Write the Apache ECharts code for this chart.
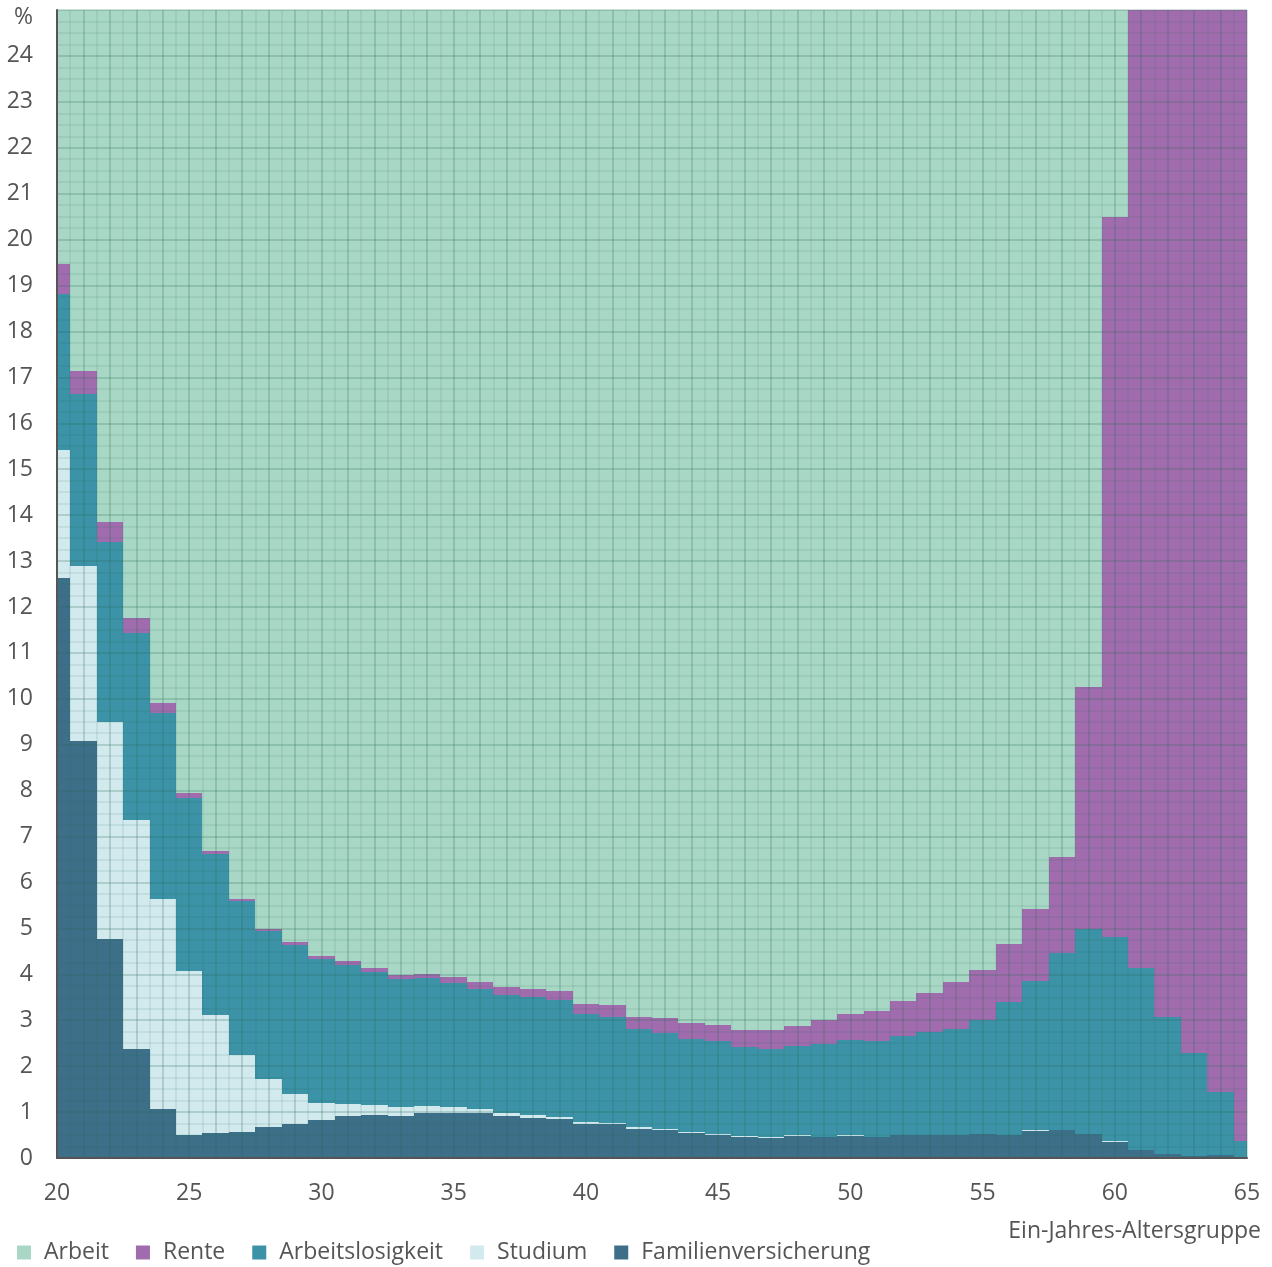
<!DOCTYPE html>
<html>
<head>
<meta charset="utf-8">
<title>Ein-Jahres-Altersgruppe</title>
<script src="https://cdn.jsdelivr.net/npm/echarts@6/dist/echarts.min.js"></script>
<style>
  html, body { margin: 0; padding: 0; background: #fff; }
  #chart { width: 1272px; height: 1267px; }
</style>
</head>
<body>
<div id="chart"></div>
<script>
// Anteile in % je Altersjahr (20 bis 65)
var ages = [20,21,22,23,24,25,26,27,28,29,30,31,32,33,34,35,36,37,38,39,40,41,42,
  43,44,45,46,47,48,49,50,51,52,53,54,55,56,57,58,59,60,61,62,63,64,65];
var familien = [12.64,9.08,4.77,2.37,1.07,0.50,0.54,0.57,0.67,0.74,0.83,0.92,0.94,0.92,
  0.99,0.99,0.99,0.92,0.87,0.84,0.75,0.73,0.64,0.60,0.54,0.50,0.45,0.44,0.48,0.45,0.48,
  0.45,0.50,0.50,0.50,0.52,0.50,0.59,0.61,0.52,0.35,0.17,0.08,0.05,0.06,0.03];
var studium = [2.77,3.81,4.72,4.99,4.58,3.58,2.58,1.67,1.05,0.65,0.37,0.26,0.22,0.18,
  0.14,0.11,0.08,0.07,0.07,0.05,0.03,0.03,0.03,0.03,0.03,0.03,0.02,0.02,0.01,0.01,0.01,
  0.01,0.01,0.01,0.01,0.01,0.01,0.01,0.01,0.01,0.01,0,0,0,0,0];
var arbeitslos = [3.40,3.74,3.93,4.08,4.04,3.76,3.50,3.35,3.22,3.24,3.13,3.02,2.90,2.80,
  2.78,2.71,2.61,2.56,2.56,2.54,2.35,2.32,2.15,2.10,2.03,2.01,1.95,1.91,1.94,2.03,2.07,
  2.08,2.14,2.23,2.30,2.47,2.89,3.26,3.85,4.46,4.46,3.97,2.99,2.24,1.38,0.34];
var rente = [0.66,0.50,0.42,0.32,0.21,0.11,0.07,0.05,0.05,0.07,0.07,0.09,0.07,0.09,
  0.10,0.13,0.15,0.17,0.18,0.20,0.22,0.26,0.26,0.31,0.35,0.35,0.36,0.42,0.45,0.52,0.57,
  0.66,0.76,0.85,1.02,1.10,1.25,1.56,2.08,5.26,15.68,40,60,75,85,92];
// Arbeit = Rest bis 100 %
var arbeit = ages.map(function (a, i) {
  return 100 - familien[i] - studium[i] - arbeitslos[i] - rente[i];
});

var layers = [
  { name: 'Familienversicherung', values: familien, color: '#3d6f88' },
  { name: 'Studium', values: studium, color: '#d2e9ee' },
  { name: 'Arbeitslosigkeit', values: arbeitslos, color: '#3c93a7' },
  { name: 'Rente', values: rente, color: '#a06cae' },
  { name: 'Arbeit', values: arbeit, color: '#a8d8c5' }
];

var txt = '#555';
var font = 'Open Sans';
var fs = 23;
var majorLine = { color: 'rgba(40,105,85,0.21)', width: 2 };
var minorLine = { color: 'rgba(40,105,85,0.12)', width: 1.5 };

var base = ages.map(function () { return 0; });
var series = layers.map(function (layer) {
  var data = ages.map(function (a, i) {
    var lo = base[i];
    base[i] += layer.values[i];
    return [a, lo, base[i]];
  });
  return {
    name: layer.name,
    type: 'custom',
    clip: true,
    z: 2,
    itemStyle: { color: layer.color },
    encode: { x: 0, y: [1, 2] },
    data: data,
    renderItem: function (params, api) {
      var x = api.value(0);
      var p0 = api.coord([x - 0.5, api.value(2)]);
      var p1 = api.coord([x + 0.5, api.value(1)]);
      var x0 = Math.round(p0[0]), x1 = Math.round(p1[0]);
      var y0 = Math.round(p0[1]), y1 = Math.round(p1[1]);
      var rect = echarts.graphic.clipRectByRect(
        { x: x0, y: y0, width: x1 - x0, height: y1 - y0 },
        { x: params.coordSys.x, y: params.coordSys.y,
          width: params.coordSys.width, height: params.coordSys.height }
      );
      if (!rect) return;
      return { type: 'rect', shape: rect, style: { fill: layer.color } };
    }
  };
});

var chart = echarts.init(document.getElementById('chart'));
chart.setOption({
  animation: false,
  textStyle: { fontFamily: font },
  grid: { left: 57, right: 25, top: 10, bottom: 109 },
  title: {
    text: 'Ein-Jahres-Altersgruppe',
    right: 6, top: 1215,
    textStyle: { fontFamily: font, fontSize: fs, fontWeight: 'normal', color: txt }
  },
  legend: {
    left: 12, top: 1236,
    icon: 'rect', itemWidth: 14, itemHeight: 14, itemGap: 27,
    data: ['Arbeit', 'Rente', 'Arbeitslosigkeit', 'Studium', 'Familienversicherung'],
    textStyle: { fontFamily: font, fontSize: fs, color: txt, padding: [0, 0, 0, 8] }
  },
  xAxis: {
    type: 'value', min: 20, max: 65, interval: 1, z: 5,
    axisLine: { show: true, onZero: false, lineStyle: { color: '#555', width: 2 } },
    axisTick: { show: false },
    axisLabel: {
      margin: 24, fontSize: fs, color: txt, fontFamily: font,
      formatter: function (v) { return v % 5 === 0 ? String(v) : ''; }
    },
    splitLine: { show: true, lineStyle: majorLine },
    minorTick: { show: false, splitNumber: 2 },
    minorSplitLine: { show: true, lineStyle: minorLine }
  },
  yAxis: {
    type: 'value', min: 0, max: 25, interval: 1, z: 5,
    axisLine: { show: true, lineStyle: { color: '#555', width: 2 } },
    axisTick: { show: false },
    axisLabel: {
      margin: 24, fontSize: fs, color: txt, fontFamily: font,
      formatter: function (v) { return v === 25 ? '{p|%}' : String(v); },
      rich: { p: { fontSize: fs, color: txt, fontFamily: font, padding: [14, 0, 0, 0] } }
    },
    splitLine: { show: true, lineStyle: majorLine },
    minorTick: { show: false, splitNumber: 4 },
    minorSplitLine: { show: true, lineStyle: minorLine }
  },
  series: series
});
</script>
</body>
</html>
